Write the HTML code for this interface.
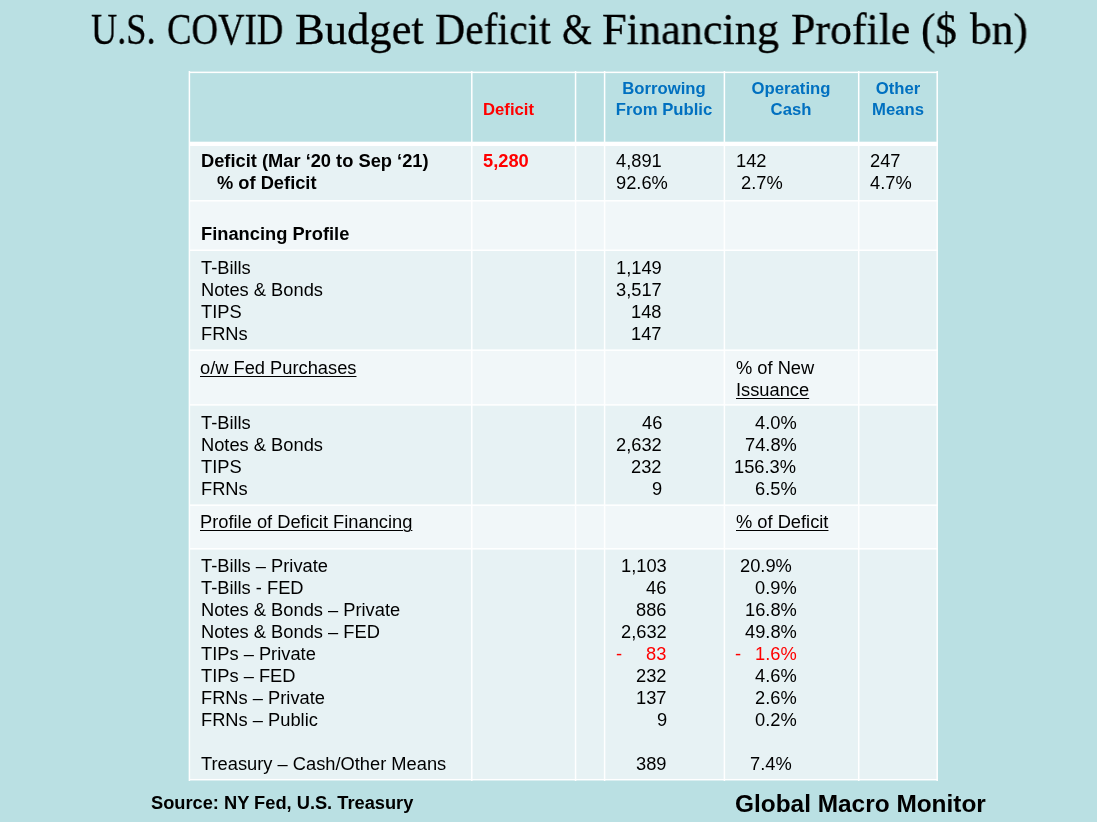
<!DOCTYPE html>
<html><head><meta charset="utf-8"><title>U.S. COVID Budget Deficit &amp; Financing Profile</title>
<style>
html,body{margin:0;padding:0;}
body{width:1097px;height:822px;background:#bae0e3;position:relative;overflow:hidden;font-family:"Liberation Sans",Arial,sans-serif;color:#000;}
.r{position:absolute;}
.t{position:absolute;white-space:nowrap;will-change:transform;}
u{text-decoration-thickness:1px;text-underline-offset:2px;}
h1{position:absolute;margin:0;left:0;top:-1px;width:1097px;height:60px;font-family:"Liberation Serif","Times New Roman",serif;font-weight:400;font-size:44.6px;line-height:60px;-webkit-text-stroke:0.3px #000;}
.w{position:absolute;top:0;white-space:nowrap;transform-origin:0 0;will-change:transform;}
</style></head>
<body>
<h1><span class="w" style="left:91.32px;transform:scaleX(0.8132)">U.S.</span><span class="w" style="left:166.85px;transform:scaleX(0.8234)">COVID</span><span class="w" style="left:295.09px;transform:scaleX(0.9990)">Budget</span><span class="w" style="left:435.19px;transform:scaleX(0.9346)">Deficit</span><span class="w" style="left:562.14px;transform:scaleX(0.8609)">&amp;</span><span class="w" style="left:601.89px;transform:scaleX(0.9928)">Financing</span><span class="w" style="left:790.69px;transform:scaleX(0.9833)">Profile</span><span class="w" style="left:920.78px;transform:scaleX(0.9691)">($</span><span class="w" style="left:970.28px;transform:scaleX(0.9736)">bn)</span></h1>
<div class="r" style="left:190px;top:72px;width:747px;height:70px;background:#bae0e3"></div>
<div class="r" style="left:190px;top:144px;width:747px;height:57px;background:#e7f2f4"></div>
<div class="r" style="left:190px;top:201px;width:747px;height:49px;background:#f1f7f9"></div>
<div class="r" style="left:190px;top:250px;width:747px;height:100px;background:#e7f2f4"></div>
<div class="r" style="left:190px;top:350px;width:747px;height:55px;background:#f1f7f9"></div>
<div class="r" style="left:190px;top:405px;width:747px;height:100px;background:#e7f2f4"></div>
<div class="r" style="left:190px;top:505px;width:747px;height:44px;background:#f1f7f9"></div>
<div class="r" style="left:190px;top:549px;width:747px;height:231px;background:#e7f2f4"></div>
<div class="r" style="left:188px;top:71px;width:1px;height:710px;background:rgba(255,255,255,0.35)"></div>
<div class="r" style="left:189px;top:71px;width:1px;height:710px;background:#fff"></div>
<div class="r" style="left:190px;top:71px;width:1px;height:710px;background:rgba(255,255,255,0.15)"></div>
<div class="r" style="left:471px;top:71px;width:1px;height:710px;background:rgba(255,255,255,0.95)"></div>
<div class="r" style="left:472px;top:71px;width:1px;height:710px;background:rgba(255,255,255,0.55)"></div>
<div class="r" style="left:574px;top:71px;width:1px;height:710px;background:rgba(255,255,255,0.20)"></div>
<div class="r" style="left:575px;top:71px;width:1px;height:710px;background:#fff"></div>
<div class="r" style="left:576px;top:71px;width:1px;height:710px;background:rgba(255,255,255,0.30)"></div>
<div class="r" style="left:603px;top:71px;width:1px;height:710px;background:rgba(255,255,255,0.15)"></div>
<div class="r" style="left:604px;top:71px;width:1px;height:710px;background:#fff"></div>
<div class="r" style="left:605px;top:71px;width:1px;height:710px;background:rgba(255,255,255,0.35)"></div>
<div class="r" style="left:723px;top:71px;width:1px;height:710px;background:rgba(255,255,255,0.35)"></div>
<div class="r" style="left:724px;top:71px;width:1px;height:710px;background:#fff"></div>
<div class="r" style="left:725px;top:71px;width:1px;height:710px;background:rgba(255,255,255,0.15)"></div>
<div class="r" style="left:857px;top:71px;width:1px;height:710px;background:rgba(255,255,255,0.05)"></div>
<div class="r" style="left:858px;top:71px;width:1px;height:710px;background:#fff"></div>
<div class="r" style="left:859px;top:71px;width:1px;height:710px;background:rgba(255,255,255,0.45)"></div>
<div class="r" style="left:936px;top:71px;width:1px;height:710px;background:rgba(255,255,255,0.55)"></div>
<div class="r" style="left:937px;top:71px;width:1px;height:710px;background:rgba(255,255,255,0.95)"></div>
<div class="r" style="left:189px;top:71px;width:749px;height:1px;background:rgba(255,255,255,0.40)"></div>
<div class="r" style="left:189px;top:72px;width:749px;height:1px;background:#fff"></div>
<div class="r" style="left:189px;top:73px;width:749px;height:1px;background:rgba(255,255,255,0.10)"></div>
<div class="r" style="left:189px;top:141px;width:749px;height:1px;background:rgba(255,255,255,0.30)"></div>
<div class="r" style="left:189px;top:142px;width:749px;height:1px;background:#fff"></div>
<div class="r" style="left:189px;top:143px;width:749px;height:1px;background:#fff"></div>
<div class="r" style="left:189px;top:144px;width:749px;height:1px;background:#fff"></div>
<div class="r" style="left:189px;top:145px;width:749px;height:1px;background:#fff"></div>
<div class="r" style="left:189px;top:200px;width:749px;height:1px;background:rgba(255,255,255,0.95)"></div>
<div class="r" style="left:189px;top:201px;width:749px;height:1px;background:rgba(255,255,255,0.55)"></div>
<div class="r" style="left:189px;top:249px;width:749px;height:1px;background:rgba(255,255,255,0.47)"></div>
<div class="r" style="left:189px;top:250px;width:749px;height:1px;background:#fff"></div>
<div class="r" style="left:189px;top:251px;width:749px;height:1px;background:rgba(255,255,255,0.03)"></div>
<div class="r" style="left:189px;top:349px;width:749px;height:1px;background:rgba(255,255,255,0.60)"></div>
<div class="r" style="left:189px;top:350px;width:749px;height:1px;background:rgba(255,255,255,0.90)"></div>
<div class="r" style="left:189px;top:404px;width:749px;height:1px;background:rgba(255,255,255,0.85)"></div>
<div class="r" style="left:189px;top:405px;width:749px;height:1px;background:rgba(255,255,255,0.65)"></div>
<div class="r" style="left:189px;top:504px;width:749px;height:1px;background:rgba(255,255,255,0.60)"></div>
<div class="r" style="left:189px;top:505px;width:749px;height:1px;background:rgba(255,255,255,0.90)"></div>
<div class="r" style="left:189px;top:548px;width:749px;height:1px;background:rgba(255,255,255,0.91)"></div>
<div class="r" style="left:189px;top:549px;width:749px;height:1px;background:rgba(255,255,255,0.59)"></div>
<div class="r" style="left:189px;top:778px;width:749px;height:1px;background:rgba(255,255,255,0.05)"></div>
<div class="r" style="left:189px;top:779px;width:749px;height:1px;background:#fff"></div>
<div class="r" style="left:189px;top:780px;width:749px;height:1px;background:rgba(255,255,255,0.45)"></div>
<div class="t" style="top:100.01px;font-size:16.7px;line-height:20.6px;font-weight:700;color:#ff0000;left:482.5px;">Deficit</div>
<div class="t" style="top:79.41px;font-size:16.7px;line-height:20.6px;font-weight:700;color:#0070c0;left:513.80px;width:300px;text-align:center;">Borrowing</div>
<div class="t" style="top:100.01px;font-size:16.7px;line-height:20.6px;font-weight:700;color:#0070c0;left:513.80px;width:300px;text-align:center;">From Public</div>
<div class="t" style="top:79.41px;font-size:16.7px;line-height:20.6px;font-weight:700;color:#0070c0;left:641.30px;width:300px;text-align:center;">Operating</div>
<div class="t" style="top:100.01px;font-size:16.7px;line-height:20.6px;font-weight:700;color:#0070c0;left:641.30px;width:300px;text-align:center;">Cash</div>
<div class="t" style="top:79.41px;font-size:16.7px;line-height:20.6px;font-weight:700;color:#0070c0;left:748.00px;width:300px;text-align:center;">Other</div>
<div class="t" style="top:100.01px;font-size:16.7px;line-height:20.6px;font-weight:700;color:#0070c0;left:748.00px;width:300px;text-align:center;">Means</div>
<div class="t" style="top:150.46px;font-size:18.3px;line-height:22px;font-weight:700;left:201px;">Deficit (Mar &#8216;20 to Sep &#8216;21)</div>
<div class="t" style="top:172.46px;font-size:18.3px;line-height:22px;font-weight:700;left:216.5px;">% of Deficit</div>
<div class="t" style="top:150.46px;font-size:18.3px;line-height:22px;font-weight:700;color:#ff0000;left:483px;">5,280</div>
<div class="t" style="top:150.46px;font-size:18.3px;line-height:22px;left:616px;">4,891</div>
<div class="t" style="top:172.46px;font-size:18.3px;line-height:22px;left:616px;">92.6%</div>
<div class="t" style="top:150.46px;font-size:18.3px;line-height:22px;left:736.4px;">142</div>
<div class="t" style="top:172.46px;font-size:18.3px;line-height:22px;left:736.4px;white-space:pre;">&nbsp;2.7%</div>
<div class="t" style="top:150.46px;font-size:18.3px;line-height:22px;left:869.7px;">247</div>
<div class="t" style="top:172.46px;font-size:18.3px;line-height:22px;left:869.7px;">4.7%</div>
<div class="t" style="top:222.76px;font-size:18.3px;line-height:22px;font-weight:700;left:201px;">Financing Profile</div>
<div class="t" style="top:257.36px;font-size:18.3px;line-height:22px;left:201px;">T-Bills</div>
<div class="t" style="top:257.36px;font-size:18.3px;line-height:22px;right:435.10px;text-align:right;">1,149</div>
<div class="t" style="top:279.36px;font-size:18.3px;line-height:22px;left:201px;">Notes &amp; Bonds</div>
<div class="t" style="top:279.36px;font-size:18.3px;line-height:22px;right:435.10px;text-align:right;">3,517</div>
<div class="t" style="top:301.36px;font-size:18.3px;line-height:22px;left:201px;">TIPS</div>
<div class="t" style="top:301.36px;font-size:18.3px;line-height:22px;right:435.10px;text-align:right;">148</div>
<div class="t" style="top:323.36px;font-size:18.3px;line-height:22px;left:201px;">FRNs</div>
<div class="t" style="top:323.36px;font-size:18.3px;line-height:22px;right:435.10px;text-align:right;">147</div>
<div class="t" style="top:357.36px;font-size:18.3px;line-height:22px;left:200px;"><u>o/w Fed Purchases</u></div>
<div class="t" style="top:357.36px;font-size:18.3px;line-height:22px;left:736px;">% of New</div>
<div class="t" style="top:379.36px;font-size:18.3px;line-height:22px;left:736px;"><u>Issuance</u></div>
<div class="t" style="top:411.56px;font-size:18.3px;line-height:22px;left:201px;">T-Bills</div>
<div class="t" style="top:411.56px;font-size:18.3px;line-height:22px;right:435.10px;text-align:right;">46</div>
<div class="t" style="top:411.56px;font-size:18.3px;line-height:22px;right:300.60px;text-align:right;">4.0%</div>
<div class="t" style="top:433.56px;font-size:18.3px;line-height:22px;left:201px;">Notes &amp; Bonds</div>
<div class="t" style="top:433.56px;font-size:18.3px;line-height:22px;right:435.10px;text-align:right;">2,632</div>
<div class="t" style="top:433.56px;font-size:18.3px;line-height:22px;right:300.60px;text-align:right;">74.8%</div>
<div class="t" style="top:455.56px;font-size:18.3px;line-height:22px;left:201px;">TIPS</div>
<div class="t" style="top:455.56px;font-size:18.3px;line-height:22px;right:435.10px;text-align:right;">232</div>
<div class="t" style="top:455.56px;font-size:18.3px;line-height:22px;right:300.60px;text-align:right;">156.3%</div>
<div class="t" style="top:477.56px;font-size:18.3px;line-height:22px;left:201px;">FRNs</div>
<div class="t" style="top:477.56px;font-size:18.3px;line-height:22px;right:435.10px;text-align:right;">9</div>
<div class="t" style="top:477.56px;font-size:18.3px;line-height:22px;right:300.60px;text-align:right;">6.5%</div>
<div class="t" style="top:510.66px;font-size:18.3px;line-height:22px;left:200px;"><u>Profile of Deficit Financing</u></div>
<div class="t" style="top:510.66px;font-size:18.3px;line-height:22px;left:736px;"><u>% of Deficit</u></div>
<div class="t" style="top:554.66px;font-size:18.3px;line-height:22px;left:201px;">T-Bills &#8211; Private</div>
<div class="t" style="top:554.66px;font-size:18.3px;line-height:22px;right:430.20px;text-align:right;">1,103</div>
<div class="t" style="top:554.66px;font-size:18.3px;line-height:22px;right:305.60px;text-align:right;">20.9%</div>
<div class="t" style="top:576.66px;font-size:18.3px;line-height:22px;left:201px;">T-Bills - FED</div>
<div class="t" style="top:576.66px;font-size:18.3px;line-height:22px;right:430.20px;text-align:right;">46</div>
<div class="t" style="top:576.66px;font-size:18.3px;line-height:22px;right:300.60px;text-align:right;">0.9%</div>
<div class="t" style="top:598.66px;font-size:18.3px;line-height:22px;left:201px;">Notes &amp; Bonds &#8211; Private</div>
<div class="t" style="top:598.66px;font-size:18.3px;line-height:22px;right:430.20px;text-align:right;">886</div>
<div class="t" style="top:598.66px;font-size:18.3px;line-height:22px;right:300.60px;text-align:right;">16.8%</div>
<div class="t" style="top:620.66px;font-size:18.3px;line-height:22px;left:201px;">Notes &amp; Bonds &#8211; FED</div>
<div class="t" style="top:620.66px;font-size:18.3px;line-height:22px;right:430.20px;text-align:right;">2,632</div>
<div class="t" style="top:620.66px;font-size:18.3px;line-height:22px;right:300.60px;text-align:right;">49.8%</div>
<div class="t" style="top:642.66px;font-size:18.3px;line-height:22px;left:201px;">TIPs &#8211; Private</div>
<div class="t" style="top:642.66px;font-size:18.3px;line-height:22px;color:#ff0000;right:430.20px;text-align:right;">83</div>
<div class="t" style="top:642.66px;font-size:18.3px;line-height:22px;color:#ff0000;right:299.90px;text-align:right;">1.6%</div>
<div class="t" style="top:642.66px;font-size:18.3px;line-height:22px;color:#ff0000;left:615.7px;">-</div>
<div class="t" style="top:642.66px;font-size:18.3px;line-height:22px;color:#ff0000;left:735.2px;">-</div>
<div class="t" style="top:664.66px;font-size:18.3px;line-height:22px;left:201px;">TIPs &#8211; FED</div>
<div class="t" style="top:664.66px;font-size:18.3px;line-height:22px;right:430.20px;text-align:right;">232</div>
<div class="t" style="top:664.66px;font-size:18.3px;line-height:22px;right:300.60px;text-align:right;">4.6%</div>
<div class="t" style="top:686.66px;font-size:18.3px;line-height:22px;left:201px;">FRNs &#8211; Private</div>
<div class="t" style="top:686.66px;font-size:18.3px;line-height:22px;right:430.20px;text-align:right;">137</div>
<div class="t" style="top:686.66px;font-size:18.3px;line-height:22px;right:300.60px;text-align:right;">2.6%</div>
<div class="t" style="top:708.66px;font-size:18.3px;line-height:22px;left:201px;">FRNs &#8211; Public</div>
<div class="t" style="top:708.66px;font-size:18.3px;line-height:22px;right:430.20px;text-align:right;">9</div>
<div class="t" style="top:708.66px;font-size:18.3px;line-height:22px;right:300.60px;text-align:right;">0.2%</div>
<div class="t" style="top:753.46px;font-size:18.3px;line-height:22px;left:201px;">Treasury &#8211; Cash/Other Means</div>
<div class="t" style="top:753.46px;font-size:18.3px;line-height:22px;right:430.70px;text-align:right;">389</div>
<div class="t" style="top:753.46px;font-size:18.3px;line-height:22px;right:305.60px;text-align:right;">7.4%</div>
<div class="t" style="top:791.98px;font-size:18.25px;line-height:22px;font-weight:700;left:151px;">Source: NY Fed, U.S. Treasury</div>
<div class="t" style="top:789.74px;font-size:24.42px;line-height:28px;font-weight:700;left:735px;">Global Macro Monitor</div>
</body></html>
